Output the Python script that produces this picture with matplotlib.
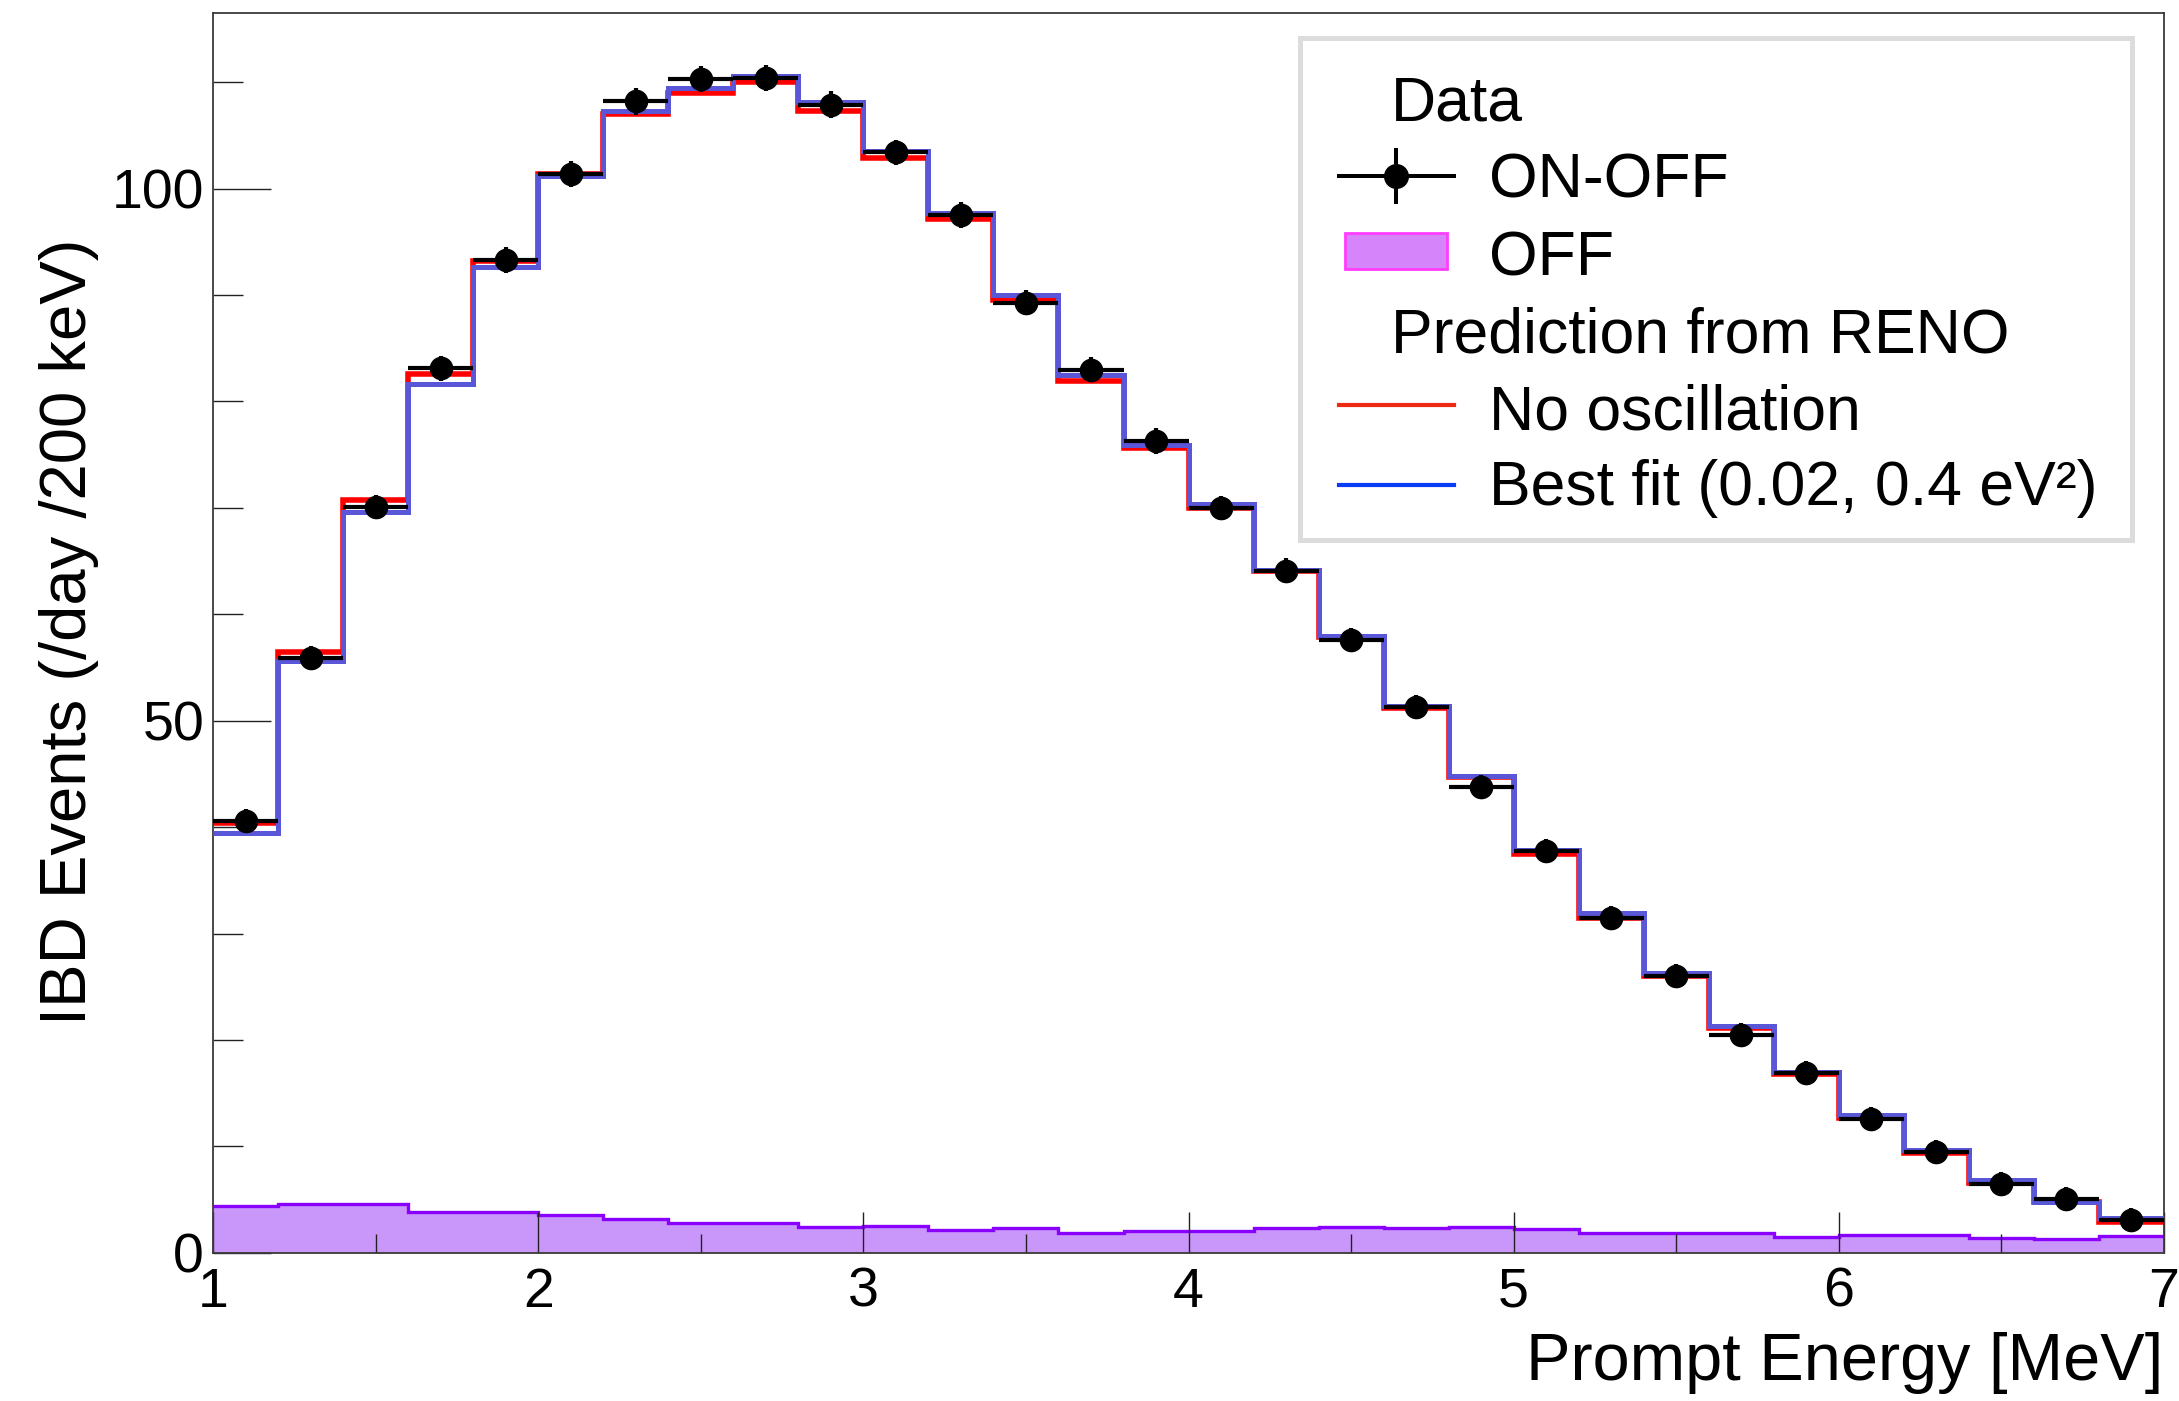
import numpy as np
import matplotlib
matplotlib.use("Agg")
import matplotlib.pyplot as plt
from matplotlib.patches import Rectangle
from matplotlib.lines import Line2D

plt.rcParams.update({"font.family":["Liberation Sans","DejaVu Sans"],"font.size":40})

# 200 keV bins from 1 to 7 MeV
edges=np.round(np.arange(1.0,7.0001,0.2),1)
centers=(edges[:-1]+edges[1:])/2
# ON-OFF data (IBD /day /200 keV)
on_off=[40.6,55.9,70.1,83.1,93.3,101.4,108.2,110.3,110.4,107.9,
        103.4,97.5,89.3,83.0,76.3,70.0,64.1,57.6,51.3,43.8,
        37.8,31.5,26.0,20.5,16.9,12.6,9.5,6.5,5.1,3.1]
on_off_err=[1.1,1.15,1.15,1.2,1.2,1.2,1.25,1.25,1.25,1.25,
            1.2,1.2,1.2,1.2,1.2,1.15,1.15,1.15,1.15,1.15,
            1.1,1.1,1.1,1.1,1.1,1.1,1.1,1.1,1.1,1.1]
# OFF background
off=[4.38,4.57,4.57,3.85,3.85,3.56,3.16,2.85,2.85,2.41,
     2.53,2.16,2.31,1.84,2.03,2.06,2.31,2.47,2.31,2.47,
     2.22,1.84,1.84,1.84,1.53,1.69,1.69,1.44,1.28,1.56]
# RENO-based predictions
no_osc=[40.4,56.5,70.7,82.6,93.2,101.4,107.0,109.0,110.0,107.3,
        102.9,97.1,89.5,81.9,75.6,70.0,64.1,57.9,51.2,44.7,
        37.5,31.5,26.0,21.1,16.8,12.7,9.4,6.55,4.75,2.95]
best_fit=[39.5,55.6,69.6,81.6,92.6,101.2,107.3,109.5,110.6,108.1,
          103.5,97.7,90.0,82.5,75.9,70.4,64.15,58.0,51.4,44.8,
          37.9,31.9,26.3,21.3,17.0,13.0,9.7,6.85,4.8,3.25]

fig=plt.figure(figsize=(21.79,14.01),dpi=100)
ax=fig.add_axes([0.0978,0.1057,0.8953,0.8850])

ax.stairs(off,edges,fill=True,facecolor="#c996f9",edgecolor="none",zorder=1)
ax.stairs(off,edges,baseline=None,color="#8a00ff",lw=2.4,zorder=1.2)
ax.stairs(no_osc,edges,baseline=None,color="#ff0000",lw=4.0,zorder=2)
ax.stairs(best_fit,edges,baseline=None,color="#5a56d8",lw=3.6,zorder=3)
ax.errorbar(centers,on_off,xerr=0.1,yerr=on_off_err,fmt="o",color="k",ms=16,
            elinewidth=3,capsize=0,zorder=5)

ax.set_xlim(1,7); ax.set_ylim(0,116.5)
ax.set_xticks(range(1,8)); ax.set_xticks(np.arange(1.5,7,1.0),minor=True)
ax.set_yticks([0,50,100]); ax.set_yticks([v for v in range(10,120,10) if v%50],minor=True)
ax.tick_params(axis="both",which="both",direction="in",color="#222222",width=1.0)
ax.tick_params(axis="x",which="major",length=29.5,pad=10,labelsize=40)
ax.tick_params(axis="x",which="minor",length=13.7)
ax.tick_params(axis="y",which="major",length=42,pad=6.5,labelsize=40)
ax.tick_params(axis="y",which="minor",length=21.6)
for sp in ax.spines.values(): sp.set_color("#3a3a3a"); sp.set_linewidth(1.3)

fig.text(0.9927,0.015,"Prompt Energy [MeV]",ha="right",va="baseline",fontsize=48)
fig.text(0.0317,0.5489,"IBD Events (/day /200 keV)",rotation=90,ha="center",va="center",fontsize=47)

# ROOT-style legend box, drawn by hand in axes fractions
T=ax.transAxes
ax.add_patch(Rectangle((0.5569,0.5746),0.4269,0.4056,transform=T,facecolor="white",
                       edgecolor="#dcdcdc",lw=3.6,zorder=10,clip_on=False))
sx0,sx1,sxc=0.5771,0.6361,0.6066
hx,tx=0.6038,0.6540
fs=45
ax.text(hx,0.9137,"Data",transform=T,fontsize=fs,va="baseline",zorder=11)
ax.add_line(Line2D([sx0,sx1],[0.8685,0.8685],transform=T,color="k",lw=2.9,zorder=11))
ax.add_line(Line2D([sxc,sxc],[0.8475,0.8895],transform=T,color="k",lw=2.9,zorder=11))
ax.add_line(Line2D([sxc],[0.8685],transform=T,marker="o",ms=17,color="k",zorder=12))
ax.text(tx,0.8516,"ON-OFF",transform=T,fontsize=fs,va="baseline",zorder=11)
ax.add_patch(Rectangle((0.5802,0.7935),0.0523,0.0291,transform=T,facecolor="#d684fa",
                       edgecolor="#ff3cff",lw=2.0,zorder=11))
ax.text(tx,0.7887,"OFF",transform=T,fontsize=fs,va="baseline",zorder=11)
ax.text(hx,0.7266,"Prediction from RENO",transform=T,fontsize=fs,va="baseline",zorder=11)
ax.add_line(Line2D([sx0,sx1],[0.6839,0.6839],transform=T,color="#ee2a14",lw=3.0,zorder=11))
ax.text(tx,0.6645,"No oscillation",transform=T,fontsize=fs,va="baseline",zorder=11)
ax.add_line(Line2D([sx0,sx1],[0.6194,0.6194],transform=T,color="#0a3cf5",lw=3.0,zorder=11))
ax.text(tx,0.6032,"Best fit (0.02, 0.4 eV²)",transform=T,fontsize=fs,va="baseline",zorder=11)

fig.savefig("out.png",dpi=100)
